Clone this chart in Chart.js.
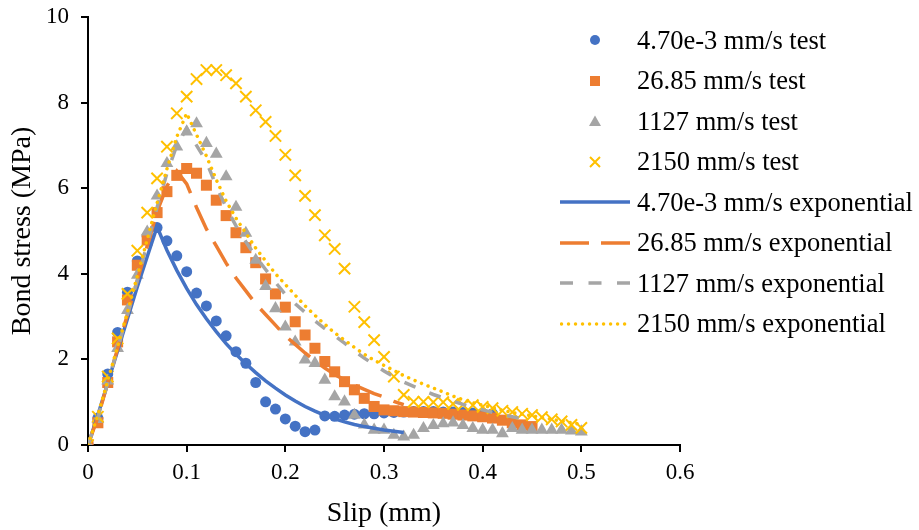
<!DOCTYPE html>
<html>
<head>
<meta charset="utf-8">
<script src="https://cdn.jsdelivr.net/npm/chart.js@4.4.0/dist/chart.umd.min.js"></script>
<style>
html,body{margin:0;padding:0;background:#fff;}
#wrap{position:relative;width:919px;height:530px;overflow:hidden;}
#c{position:absolute;left:0;top:0;}
.leg{position:absolute;left:560px;height:30px;display:flex;align-items:center;font:26.5px "Liberation Serif","Times New Roman",serif;color:#000;white-space:nowrap;}
.leg svg{width:70px;height:20px;margin-right:7px;flex:none;}
</style>
</head>
<body>
<div id="wrap">
  <canvas id="c" width="919" height="530"></canvas>
  <div id="legend"></div>
</div>
<script>
// slip values (mm), shared by all series
const slip=[0,0.01,0.02,0.03,0.04,0.05,0.06,0.07,0.08,0.09,
  0.1,0.11,0.12,0.13,0.14,0.15,0.16,0.17,0.18,0.19,
  0.2,0.21,0.22,0.23,0.24,0.25,0.26,0.27,0.28,0.29,
  0.3,0.31,0.32,0.33,0.34,0.35,0.36,0.37,0.38,0.39,
  0.4,0.41,0.42,0.43,0.44,0.45,0.46,0.47,0.48,0.49,0.5];

// bond stress (MPa), test points
const testSlow=[0,0.63,1.66,2.63,3.57,4.3,4.88,5.08,4.77,4.42,
  4.05,3.55,3.25,2.9,2.55,2.18,1.91,1.46,1.01,0.84,
  0.61,0.44,0.31,0.35,0.68,0.67,0.7,0.72,0.73,0.73,
  0.75,0.76,0.77,0.78,0.78,0.78,0.77,0.77,0.76,0.75,0.74,0.73];
const test2685=[0,0.52,1.46,2.41,3.39,4.2,4.79,5.43,5.92,6.3,
  6.46,6.35,6.07,5.72,5.36,4.96,4.61,4.26,3.88,3.53,
  3.22,2.88,2.57,2.26,1.95,1.71,1.48,1.29,1.09,0.9,
  0.82,0.8,0.78,0.77,0.76,0.75,0.74,0.72,0.7,0.68,
  0.66,0.63,0.58,0.52,0.47,0.43];
const test1127=[0,0.6,1.5,2.26,3.15,3.97,4.98,5.82,6.58,6.97,
  7.32,7.51,7.05,6.8,6.27,5.56,4.95,4.32,3.71,3.19,
  2.76,2.41,1.99,1.91,1.52,1.13,1.01,0.7,0.47,0.35,
  0.35,0.23,0.19,0.23,0.39,0.46,0.5,0.52,0.46,0.39,
  0.35,0.35,0.27,0.39,0.35,0.35,0.35,0.35,0.35,0.33,0.31];
const test2150=[0,0.66,1.6,2.49,3.53,4.54,5.43,6.23,6.97,7.75,
  8.14,8.55,8.76,8.76,8.64,8.45,8.14,7.82,7.55,7.22,
  6.78,6.3,5.82,5.37,4.9,4.58,4.12,3.23,2.87,2.45,
  2.06,1.6,1.17,1.01,1.01,1.0,1.0,0.96,0.94,0.93,
  0.89,0.86,0.8,0.77,0.73,0.7,0.65,0.6,0.55,0.47,0.4];

// bond stress (MPa), exponential model curves
const expSlow=[0,0.7,1.45,2.2,2.95,3.7,4.4,5.1,4.55,4.08,
  3.66,3.28,2.95,2.65,2.37,2.12,1.9,1.69,1.5,1.33,
  1.17,1.03,0.9,0.79,0.69,0.61,0.54,0.48,0.43,0.39,
  0.35,0.32,0.29];
const exp2685=[0,0.65,1.45,2.25,3.05,3.85,4.65,5.45,6.05,6.4,
  6.1,5.55,5.05,4.65,4.25,3.9,3.6,3.3,3.05,2.8,
  2.55,2.35,2.15,1.97,1.8,1.65,1.52,1.4,1.3,1.2,
  1.12,1.02,0.94];
const exp1127=[0,0.65,1.45,2.25,3.05,3.85,4.7,5.55,6.35,7.0,
  7.4,7.0,6.62,6.05,5.55,5.12,4.75,4.4,4.1,3.8,
  3.52,3.3,3.1,2.9,2.72,2.55,2.38,2.2,2.03,1.88,
  1.73,1.59,1.47,1.37,1.27,1.18,1.1,1.02,0.95,0.88,
  0.82,0.76,0.71,0.66,0.61,0.57];
const exp2150=[0,0.7,1.5,2.3,3.1,3.95,4.8,5.65,6.45,7.2,
  7.75,7.25,6.75,6.2,5.7,5.3,4.95,4.6,4.3,4.0,
  3.75,3.5,3.25,3.03,2.82,2.62,2.45,2.28,2.12,1.98,
  1.86,1.74,1.62,1.52,1.42,1.33,1.24,1.14,1.06,0.99,
  0.93,0.87,0.81,0.76,0.72,0.68,0.64,0.6,0.56,0.52,0.48];

const labels=["4.70e-3 mm/s test","26.85 mm/s test","1127 mm/s test","2150 mm/s test",
  "4.70e-3 mm/s exponential","26.85 mm/s exponential","1127 mm/s exponential","2150 mm/s exponential"];

const BLUE="#4472C4", ORANGE="#ED7D31", GRAY="#A5A5A5", GOLD="#FFC000";
const FONT='"Liberation Serif","Times New Roman",serif';

function pts(ys){ return ys.map((y,i)=>({x:slip[i],y})); }

function testSet(label,ys,color,style,radius,order){
  return {type:"scatter",label,data:pts(ys),showLine:false,order,
    pointStyle:style,pointRadius:radius,pointBackgroundColor:color,
    pointBorderColor:color,pointBorderWidth:style==="crossRot"?2:0};
}
function expSet(label,ys,color,dash,cap,width,order){
  return {type:"line",label,data:pts(ys),showLine:true,order,
    borderColor:color,borderWidth:width,borderDash:dash,borderCapStyle:cap,
    pointRadius:0,tension:0,fill:false};
}

const datasets=[
  testSet(labels[0],testSlow,BLUE,"circle",5.5,8),
  testSet(labels[1],test2685,ORANGE,"rect",7.8,7),
  testSet(labels[2],test1127,GRAY,"triangle",7.4,6),
  testSet(labels[3],test2150,GOLD,"crossRot",8,5),
  expSet(labels[4],expSlow,BLUE,[],"butt",3.5,4),
  expSet(labels[5],exp2685,ORANGE,[28,13],"butt",3.5,3),
  expSet(labels[6],exp1127,GRAY,[12,15],"butt",3.5,2),
  expSet(labels[7],exp2150,GOLD,[0.01,7],"round",3.5,1)
];

new Chart(document.getElementById("c"),{
  type:"scatter",
  data:{datasets},
  options:{
    responsive:false,
    devicePixelRatio:1,
    animation:false,
    events:[],
    layout:{padding:{left:2,top:17,right:239,bottom:0}},
    plugins:{legend:{display:false},tooltip:{enabled:false}},
    scales:{
      x:{type:"linear",min:0,max:0.6,
        afterFit:s=>{s.height=85;s.paddingLeft=0;},
        ticks:{stepSize:0.1,color:"#000",font:{family:FONT,size:23},padding:7,
          callback:v=>String(Number(v.toFixed(1)))},
        grid:{drawOnChartArea:false,drawTicks:true,tickLength:7,color:"#000",lineWidth:2},
        border:{display:true,color:"#000",width:2},
        title:{display:true,text:"Slip (mm)",color:"#000",font:{family:FONT,size:28},padding:{top:10,bottom:0}}
      },
      y:{type:"linear",min:0,max:10,
        afterFit:s=>{s.width=86;s.paddingTop=0;s.paddingBottom=0;},
        ticks:{stepSize:2,color:"#000",font:{family:FONT,size:23},padding:12},
        grid:{drawOnChartArea:false,drawTicks:true,tickLength:7,color:"#000",lineWidth:2},
        border:{display:true,color:"#000",width:2},
        title:{display:true,text:"Bond stress (MPa)",color:"#000",font:{family:FONT,size:28},padding:{top:4,bottom:6}}
      }
    }
  }
});

// legend, built as html next to the plot
const legendSymbols=[
  `<circle cx="35" cy="10" r="5" fill="${BLUE}"/>`,
  `<rect x="30" y="5" width="10" height="10" fill="${ORANGE}"/>`,
  `<polygon points="35,4.5 41,15 29,15" fill="${GRAY}"/>`,
  `<path d="M30,5 L40,15 M40,5 L30,15" stroke="${GOLD}" stroke-width="2"/>`,
  `<line x1="0" y1="10" x2="70" y2="10" stroke="${BLUE}" stroke-width="3.5"/>`,
  `<line x1="0" y1="10" x2="70" y2="10" stroke="${ORANGE}" stroke-width="3.5" stroke-dasharray="29 12"/>`,
  `<line x1="0" y1="10" x2="70" y2="10" stroke="${GRAY}" stroke-width="3.5" stroke-dasharray="13 15.5"/>`,
  `<line x1="1.5" y1="10" x2="70" y2="10" stroke="${GOLD}" stroke-width="3.5" stroke-linecap="round" stroke-dasharray="0.01 7"/>`
];
document.getElementById("legend").innerHTML=labels.map((t,i)=>`
  <div class="leg" style="top:${25+i*40.5}px">
    <svg viewBox="0 0 70 20">${legendSymbols[i]}</svg><span>${t}</span>
  </div>`).join("");
</script>
</body>
</html>
